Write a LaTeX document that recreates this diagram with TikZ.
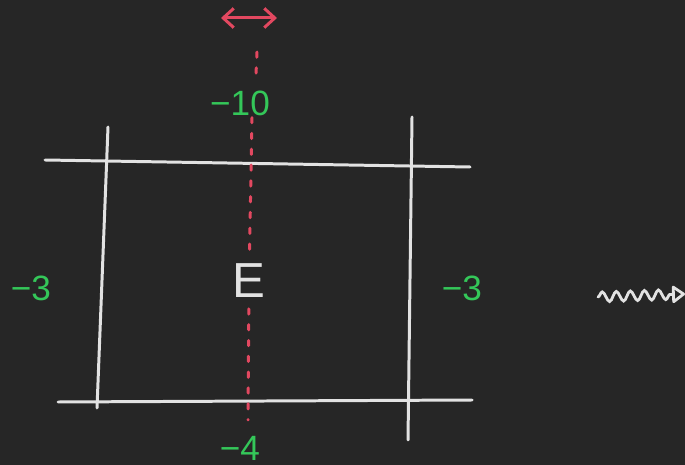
\documentclass[tikz,border=0pt]{standalone}
\usepackage{fontspec}
\setmainfont{Liberation Sans}
\usetikzlibrary{arrows.meta, decorations.pathmorphing, positioning}

\definecolor{board}{RGB}{38,38,38}
\definecolor{chalk}{RGB}{226,226,226}
\definecolor{mint}{RGB}{52,199,89}
\definecolor{rose}{RGB}{226,72,96}

\begin{document}
\begin{tikzpicture}[
    x=0.02cm, y=-0.02cm,
    grid line/.style={draw=chalk, line width=1.7pt, line cap=round},
    cost/.style={text=mint, font=\fontsize{20}{22}\selectfont, inner sep=1pt},
    cell/.style={text=chalk, font=\fontsize{28}{30}\selectfont, inner sep=6pt},
    seam/.style={draw=rose, line width=1.7pt, line cap=round, dash pattern=on 3pt off 6pt},
    move arrow/.style={draw=rose, line width=1.7pt, {Straight Barb[length=6pt, width=11pt]}-{Straight Barb[length=6pt, width=11pt]}},
    flow/.style={draw=chalk, line width=1.6pt, line cap=round, -{Triangle[open, round, length=8pt, width=11pt]},
        decorate, decoration={snake, amplitude=2.8pt, segment length=8pt, post length=8pt}}
]

% Background
\fill[board] (0,0) rectangle (685,465);
\useasboundingbox (0,0) rectangle (685,465);

% Grid corners
\coordinate (TL) at (45,160);
\coordinate (TR) at (470,167);
\coordinate (BL) at (58,402);
\coordinate (BR) at (472,400);
\coordinate (LT) at (108,127);
\coordinate (LB) at (97,408);
\coordinate (RT) at (412,117);
\coordinate (RB) at (408,440);

% Grid lines
\draw[grid line] (TL) -- (TR);
\draw[grid line] (BL) -- (BR);
\draw[grid line] (LT) -- (LB);
\draw[grid line] (RT) -- (RB);

% Nodes
\node[cell] (E) at (249,281) {E};
\node[cost] (up) at (240,103) {−10};
\node[cost] (down) at (240,448) {−4};
\node[cost] (left) at (31,288) {−3};
\node[cost] (right) at (462,288) {−3};

% Seam
\coordinate (seamtop) at (257,52);
\coordinate (seamstop) at (256,74);
\coordinate (seamend) at (248,420);
\draw[seam] (seamtop) -- (seamstop);
\draw[seam] (up.south -| 252,0) -- (E);
\draw[seam] (E) -- (seamend);

% Move arrow
\coordinate (moveL) at (221,18);
\coordinate (moveR) at (277,18);
\draw[move arrow] (moveL) -- (moveR);

% Flow arrow
\coordinate (flowA) at (598,297);
\coordinate (flowB) at (685,294);
\draw[flow] (flowA) -- (flowB);

\end{tikzpicture}
\end{document}
